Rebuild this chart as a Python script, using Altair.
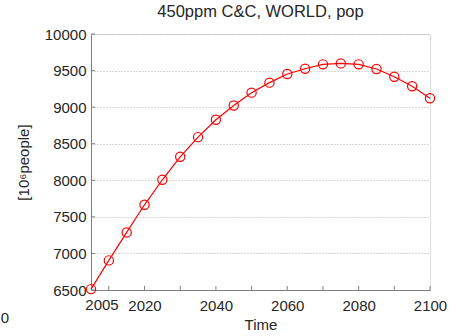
import altair as alt
import pandas as pd

years = [2005, 2010, 2015, 2020, 2025, 2030, 2035, 2040, 2045, 2050,
         2055, 2060, 2065, 2070, 2075, 2080, 2085, 2090, 2095, 2100]
pop = [6512, 6905, 7287, 7665, 8007, 8321, 8590, 8828, 9022, 9198,
       9335, 9453, 9525, 9585, 9598, 9585, 9522, 9416, 9285, 9122]
tick_years = [2010, 2020, 2030, 2040, 2050, 2060, 2070, 2080, 2090, 2100]
label_years = [2020, 2040, 2060, 2080, 2100]
y_ticks = [6500, 7000, 7500, 8000, 8500, 9000, 9500, 10000]
first_label = ["2005"]

FONT = "Liberation Sans"
TXT = "#262626"
W, H = 339, 256

df = pd.DataFrame({"year": years, "pop": pop})
ticks_df = pd.DataFrame({"year": tick_years})
yticks_df = pd.DataFrame({"v": y_ticks})
first_df = pd.DataFrame({"year": [years[0]], "lab": first_label})

xs = alt.Scale(domain=[2005, 2100], nice=False, zero=False)
ys = alt.Scale(domain=[6500, 10000], nice=False, zero=False)

xaxis = alt.Axis(values=label_years, format="d", ticks=False, tickSize=0, grid=False,
                 tickCount=20,
                 labelPadding=8, labelFont=FONT, labelFontSize=15, labelColor=TXT,
                 labelOverlap=False, labelFlush=False,
                 domainColor="#808080", title="Time", titleFont=FONT, titleFontSize=15,
                 titleFontWeight="normal", titleColor=TXT, titlePadding=4)
yaxis = alt.Axis(values=y_ticks, format="d", tickCount=20,
                 ticks=False, tickSize=0, grid=True, gridDash=[1, 2], gridColor="#b0b0b0",
                 labelPadding=5, labelFont=FONT, labelFontSize=15, labelColor=TXT,
                 labelOverlap=False, labelFlush=False,
                 domainColor="#808080", title="[10⁶people]", titleFont=FONT,
                 titleFontSize=15, titleFontWeight="normal", titleColor=TXT,
                 titlePadding=13)

line = alt.Chart(df).mark_line(color="#ff0000", strokeWidth=1.2).encode(
    x=alt.X("year:Q", scale=xs, axis=xaxis),
    y=alt.Y("pop:Q", scale=ys, axis=yaxis),
)
pts = alt.Chart(df).mark_point(shape="circle", filled=False, color="#ff0000",
                               size=85, strokeWidth=1.2, opacity=1).encode(
    x=alt.X("year:Q", scale=xs),
    y=alt.Y("pop:Q", scale=ys),
)
tk = alt.Chart(ticks_df).mark_rule(color="#808080", strokeWidth=1).encode(
    x=alt.X("year:Q", scale=xs),
    y=alt.value(H),
    y2=alt.value(H - 4),
)
ytk = alt.Chart(yticks_df).mark_rule(color="#808080", strokeWidth=1).encode(
    y=alt.Y("v:Q", scale=ys),
    x=alt.value(0),
    x2=alt.value(4),
)
first = alt.Chart(first_df).mark_text(font=FONT, fontSize=15, color=TXT,
                                      baseline="top", dx=11).encode(
    x=alt.X("year:Q", scale=xs),
    y=alt.value(H + 8),
    text="lab:N",
)
stray = alt.Chart(pd.DataFrame({"t": ["0"]})).mark_text(
    font=FONT, fontSize=15, color=TXT, baseline="middle").encode(
    x=alt.value(-86), y=alt.value(284), text="t:N")

chart = alt.layer(tk, ytk, line, pts, first, stray).properties(
    width=W, height=H,
    title=alt.TitleParams(text="450ppm C&C, WORLD, pop", font=FONT, fontSize=16.5,
                          fontWeight="normal", color=TXT, offset=7),
    autosize=alt.AutoSizeParams(type="none"),
    padding={"left": 91, "top": 34, "right": 22, "bottom": 46},
).configure_view(stroke=None).configure(background="white")

chart.save("out.html", embed_options={"renderer": "svg", "actions": False})
